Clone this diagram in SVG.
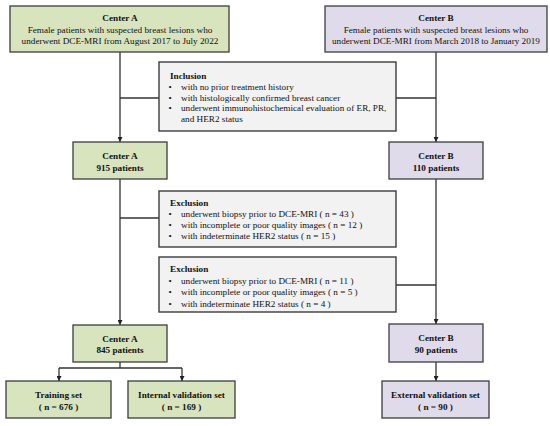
<svg xmlns="http://www.w3.org/2000/svg" width="550" height="426" viewBox="0 0 550 426">
<defs>
<style>
text{font-family:"Liberation Serif","Times New Roman",serif;font-size:9.2px;fill:#111}
.b{font-weight:bold}
.c{text-anchor:middle}
.g rect{fill:#d8e4bd;stroke:#3c3c3c;stroke-width:1.3}
.p rect{fill:#e0dbea;stroke:#3c3c3c;stroke-width:1.3}
.x rect{fill:#f2f2f2;stroke:#3c3c3c;stroke-width:1.4}
#connectors line{stroke:#333;stroke-width:1.3;fill:none}
</style>
<marker id="ah" viewBox="0 0 10 10" refX="10" refY="5" markerWidth="5" markerHeight="5" orient="auto" markerUnits="userSpaceOnUse">
<path d="M0,0 L10,5 L0,10 z" fill="#222"/>
</marker>
</defs>
<rect width="550" height="426" fill="#fff"/>
<g id="connectors">
<line x1="120" y1="52" x2="120" y2="142" marker-end="url(#ah)"/>
<line x1="120" y1="98" x2="159" y2="98"/>
<line x1="436" y1="52" x2="436" y2="142" marker-end="url(#ah)"/>
<line x1="396" y1="98" x2="436" y2="98"/>
<line x1="120" y1="179" x2="120" y2="325" marker-end="url(#ah)"/>
<line x1="120" y1="218" x2="159" y2="218"/>
<line x1="436" y1="179" x2="436" y2="324" marker-end="url(#ah)"/>
<line x1="396" y1="285" x2="436" y2="285"/>
<line x1="120" y1="362" x2="120" y2="368"/>
<line x1="59" y1="368" x2="182" y2="368"/>
<line x1="59" y1="368" x2="59" y2="381" marker-end="url(#ah)"/>
<line x1="182" y1="368" x2="182" y2="381" marker-end="url(#ah)"/>
<line x1="436" y1="362" x2="436" y2="381" marker-end="url(#ah)"/>
</g>
<g id="centerA_top" class="g">
<rect x="10" y="6" width="219" height="46"/>
<text class="b c" x="120" y="20.5">Center A</text>
<text class="c" x="120" y="32.5">Female patients with suspected breast lesions who</text>
<text class="c" x="120" y="44">underwent DCE-MRI from August 2017 to July 2022</text>
</g>
<g id="centerB_top" class="p">
<rect x="325" y="6" width="222" height="46"/>
<text class="b c" x="436" y="20.5">Center B</text>
<text class="c" x="436" y="32.5">Female patients with suspected breast lesions who</text>
<text class="c" x="436" y="44">underwent DCE-MRI from March 2018 to January 2019</text>
</g>
<g id="inclusion" class="x">
<rect x="159" y="62" width="237" height="69"/>
<text class="b" x="170" y="78.5">Inclusion</text>
<text x="168.5" y="90">•</text><text x="181" y="90">with no prior treatment history</text>
<text x="168.5" y="100.5">•</text><text x="181" y="100.5">with histologically confirmed breast cancer</text>
<text x="168.5" y="111">•</text><text x="181" y="111">underwent immunohistochemical evaluation of ER, PR,</text>
<text x="181" y="121.5">and HER2 status</text>
</g>
<g id="centerA_915" class="g">
<rect x="73" y="142" width="94" height="37"/>
<text class="b c" x="120" y="159">Center A</text>
<text class="b c" x="120" y="170.5">915 patients</text>
</g>
<g id="centerB_110" class="p">
<rect x="389" y="142" width="94" height="37"/>
<text class="b c" x="436" y="159">Center B</text>
<text class="b c" x="436" y="170.5">110 patients</text>
</g>
<g id="exclusionA" class="x">
<rect x="159" y="191" width="237" height="56"/>
<text class="b" x="170" y="205.5">Exclusion</text>
<text x="168.5" y="216.5">•</text><text x="181" y="216.5">underwent biopsy prior to DCE-MRI ( n = 43 )</text>
<text x="168.5" y="228">•</text><text x="181" y="228">with incomplete or poor quality images ( n = 12 )</text>
<text x="168.5" y="239">•</text><text x="181" y="239">with indeterminate HER2 status ( n = 15 )</text>
</g>
<g id="exclusionB" class="x">
<rect x="159" y="257" width="237" height="55"/>
<text class="b" x="170" y="271.5">Exclusion</text>
<text x="168.5" y="283.5">•</text><text x="181" y="283.5">underwent biopsy prior to DCE-MRI ( n = 11 )</text>
<text x="168.5" y="295">•</text><text x="181" y="295">with incomplete or poor quality images ( n = 5 )</text>
<text x="168.5" y="306.5">•</text><text x="181" y="306.5">with indeterminate HER2 status ( n = 4 )</text>
</g>
<g id="centerA_845" class="g">
<rect x="73" y="325" width="94" height="37"/>
<text class="b c" x="120" y="341.5">Center A</text>
<text class="b c" x="120" y="353">845 patients</text>
</g>
<g id="centerB_90" class="p">
<rect x="389" y="324" width="94" height="38"/>
<text class="b c" x="436" y="341">Center B</text>
<text class="b c" x="436" y="352.5">90 patients</text>
</g>
<g id="training" class="g">
<rect x="6" y="381" width="105" height="37"/>
<text class="b c" x="58.5" y="398">Training set</text>
<text class="b c" x="58.5" y="409.5">( n = 676 )</text>
</g>
<g id="internal" class="g">
<rect x="128" y="381" width="107" height="37"/>
<text class="b c" x="181.5" y="398">Internal validation set</text>
<text class="b c" x="181.5" y="409.5">( n = 169 )</text>
</g>
<g id="external" class="p">
<rect x="382" y="381" width="107" height="37"/>
<text class="b c" x="435.5" y="398">External validation set</text>
<text class="b c" x="435.5" y="409.5">( n = 90 )</text>
</g>
</svg>
